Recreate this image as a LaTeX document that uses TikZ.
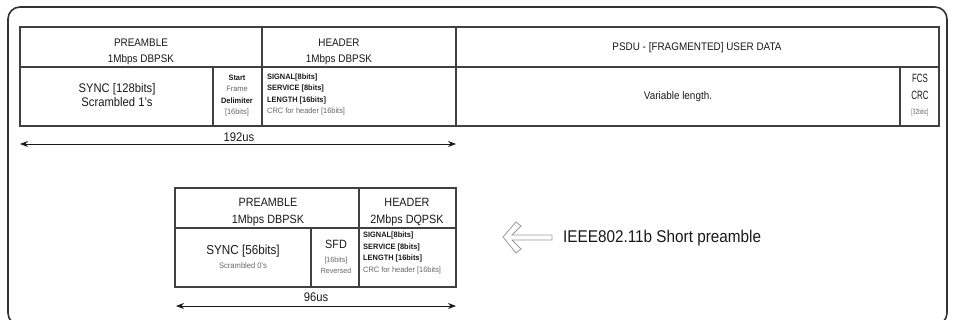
\documentclass[tikz,border=0pt]{standalone}
\usepackage{fontspec}
\setmainfont[FakeStretch=0.9]{Liberation Sans}
\newfontfamily\notefont[FakeStretch=0.95]{Liberation Sans}
\newfontfamily\narrowfont[FakeStretch=0.66]{Liberation Sans}
\usetikzlibrary{arrows.meta}

\begin{document}
\begin{tikzpicture}[x=1pt,y=-1pt,
	frame/.style={line width=1.6pt, draw=black!80, rounded corners=12pt},
	grid/.style={line width=1.1pt, draw=black!75},
	span/.style={line width=0.9pt, draw=black!90, {Stealth[length=8pt,width=6pt]}-{Stealth[length=8pt,width=6pt]}},
	head/.style={font=\fontsize{11}{16}\selectfont, text=black!90, align=center, inner sep=0pt},
	field/.style={font=\fontsize{12.5}{13.5}\selectfont, text=black!90, align=center, inner sep=0pt},
	note/.style={font=\notefont\fontsize{7.8}{11.6}\selectfont, text=black!90, inner sep=0pt},
	faint/.style={text=black!60}]

	\useasboundingbox (0,0) rectangle (954,320);

	% Frame
	\draw [frame] (8,7) rectangle (947,325);

	% Long preamble table
	\draw [grid] (20,27) rectangle (939,126);
	\draw [grid] (20,67) -- (939,67);
	\draw [grid] (262,27) -- (262,126);
	\draw [grid] (456,27) -- (456,126);
	\draw [grid] (213,67) -- (213,126);
	\draw [grid] (900,67) -- (900,126);

	\node [head] (lpre) at (141,51.5) {PREAMBLE\\1Mbps DBPSK};
	\node [head] (lhdr) at (339,51.5) {HEADER\\1Mbps DBPSK};
	\node [head] (psdu) at (697,48) {PSDU - [FRAGMENTED] USER DATA};
	\node [field] (lsync) at (117,95) {SYNC [128bits]\\Scrambled 1's};
	\node [note, align=center] (lsfd) at (237,95.5) {\bfseries Start\\\textcolor{black!60}{Frame}\\\bfseries Delimiter\\\textcolor{black!60}{[16bits]}};
	\node [note, align=left, anchor=west] (lfld) at (267,94.5) {\bfseries SIGNAL[8bits]\\\bfseries SERVICE [8bits]\\\bfseries LENGTH [16bits]\\\textcolor{black!60}{CRC for header [16bits]}};
	\node [head] (data) at (678,97) {Variable length.};
	\node [align=center, inner sep=0pt, text=black!90, font=\narrowfont\fontsize{12}{17}\selectfont] (fcs) at (920,87) {FCS\\CRC};
	\node [note, faint, font=\narrowfont\fontsize{7.5}{8}\selectfont] (fcsb) at (920,113) {[32bitic]};

	% Long span
	\coordinate (la) at (20,144);
	\coordinate (lb) at (456,144);
	\draw [span] (la) -- (lb);
	\node [font=\fontsize{12.5}{14}\selectfont, text=black!90, inner sep=0pt] (lt) at (239,137.5) {192us};

	% Short preamble table
	\draw [grid] (175,188) rectangle (456,287);
	\draw [grid] (175,228) -- (456,228);
	\draw [grid] (359,188) -- (359,287);
	\draw [grid] (311,228) -- (311,287);

	\node [head, font=\fontsize{12}{17}\selectfont] (spre) at (268,212.5) {PREAMBLE\\1Mbps DBPSK};
	\node [head, font=\fontsize{12}{17}\selectfont] (shdr) at (407,212.5) {HEADER\\2Mbps DQPSK};
	\node [field, font=\fontsize{13}{14}\selectfont] (ssync) at (243,251.5) {SYNC [56bits]};
	\node [note, faint, font=\notefont\fontsize{8}{9}\selectfont] (sscr) at (243,265.5) {Scrambled 0's};
	\node [field, font=\fontsize{12}{14}\selectfont] (ssfd) at (336,244) {SFD};
	\node [note, faint, align=center, font=\notefont\fontsize{7.5}{11}\selectfont] (ssfdb) at (336,265.5) {[16bits]\\Reversed};
	\node [note, align=left, anchor=west] (sfld) at (363,253) {\bfseries SIGNAL[8bits]\\\bfseries SERVICE [8bits]\\\bfseries LENGTH [16bits]\\\textcolor{black!60}{CRC for header [16bits]}};

	% Short span
	\coordinate (sa) at (176,306);
	\coordinate (sb) at (456,306);
	\draw [span] (sa) -- (sb);
	\node [font=\fontsize{12.5}{14}\selectfont, text=black!90, inner sep=0pt] (st) at (316,297.5) {96us};

	% Hollow arrow and label
	\draw [line width=0.8pt, draw=black!40, fill=white, line join=miter]
		(503,237) -- (516,222) -- (521,226) -- (512,235) -- (552,235) -- (552,240)
		-- (512,240) -- (521,249) -- (516,253) -- cycle;
	\node [font=\fontsize{17}{20}\selectfont, text=black!90, anchor=west, inner sep=0pt] (short) at (563,238) {IEEE802.11b Short preamble};

\end{tikzpicture}
\end{document}
